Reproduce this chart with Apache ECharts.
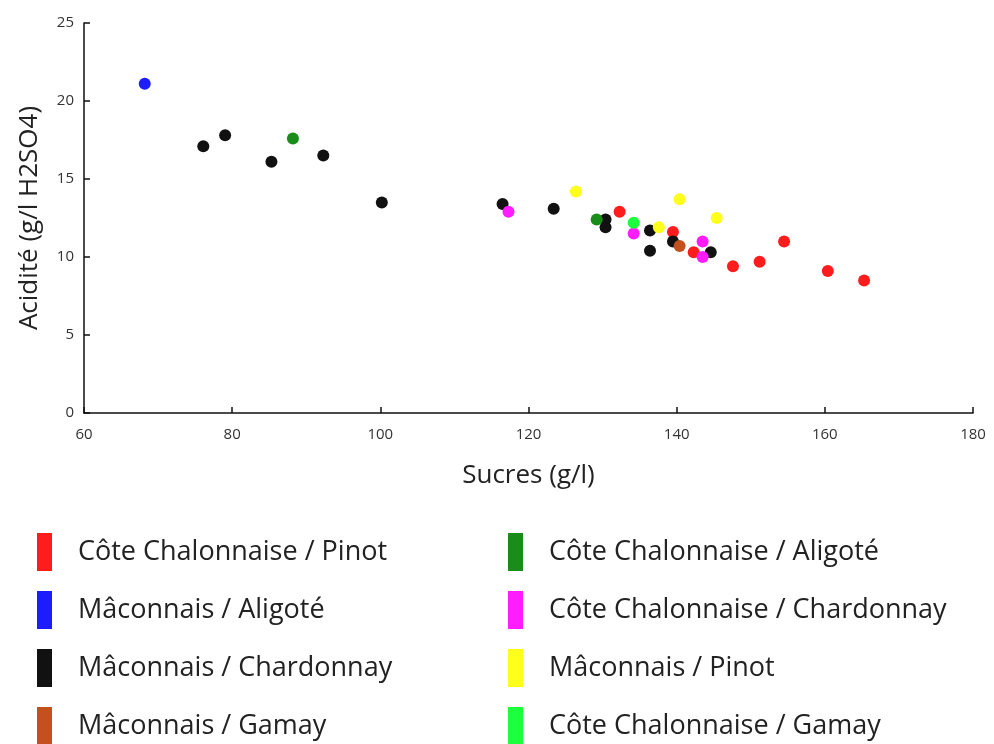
<!DOCTYPE html>
<html>
<head>
<meta charset="utf-8">
<script src="https://cdn.jsdelivr.net/npm/echarts@6/dist/echarts.min.js"></script>
<style>
html,body{margin:0;padding:0;background:#fff;}
#c{width:994px;height:744px;}
</style>
</head>
<body>
<div id="c"></div>
<script>
var xTicks = [60, 80, 100, 120, 140, 160, 180];
var yTicks = [0, 5, 10, 15, 20, 25];

var seriesNames = [
  'Côte Chalonnaise / Pinot',
  'Mâconnais / Aligoté',
  'Mâconnais / Chardonnay',
  'Mâconnais / Gamay',
  'Côte Chalonnaise / Aligoté',
  'Côte Chalonnaise / Chardonnay',
  'Mâconnais / Pinot',
  'Côte Chalonnaise / Gamay'
];
var seriesColors = ['#ff1c1c', '#1c1cff', '#111111', '#c4501e', '#1a8c1a', '#ff1cff', '#ffff1c', '#1cff3c'];

var ccPinot = [[132.3, 12.9], [139.5, 11.6], [142.3, 10.3], [147.6, 9.4], [151.2, 9.7], [154.5, 11.0], [160.4, 9.1], [165.3, 8.5]];
var mAligote = [[68.2, 21.1]];
var mChardonnay = [[76.1, 17.1], [79.05, 17.8], [85.3, 16.1], [92.3, 16.5], [100.2, 13.5], [116.5, 13.4], [123.4, 13.1], [130.4, 12.4], [130.4, 11.9], [136.4, 11.7], [136.4, 10.4], [139.5, 11.0], [144.6, 10.3]];
var mGamay = [[140.4, 10.7]];
var ccAligote = [[88.2, 17.6], [129.2, 12.4]];
var ccChardonnay = [[117.3, 12.9], [134.2, 11.5], [143.5, 11.0], [143.5, 10.0]];
var mPinot = [[126.4, 14.2], [140.4, 13.7], [145.4, 12.5], [137.6, 11.9]];
var ccGamay = [[134.2, 12.2]];

var seriesData = [ccPinot, mAligote, mChardonnay, mGamay, ccAligote, ccChardonnay, mPinot, ccGamay];

var chart = echarts.init(document.getElementById('c'));
var font = '"Open Sans", sans-serif';

var series = seriesNames.map(function (n, i) {
  return {
    name: n,
    type: 'scatter',
    data: seriesData[i],
    symbolSize: 12,
    itemStyle: { color: seriesColors[i], opacity: 1 },
    emphasis: { disabled: true }
  };
});

function legendCfg(names, left) {
  return {
    orient: 'vertical',
    left: left,
    top: 533,
    height: 240,
    padding: 0,
    icon: 'rect',
    itemWidth: 15,
    itemHeight: 38,
    itemGap: 20,
    data: names,
    selectedMode: false,
    textStyle: { fontFamily: font, fontSize: 27, color: '#222', padding: [0, 0, 0, 21] }
  };
}

chart.setOption({
  animation: false,
  textStyle: { fontFamily: font },
  grid: { left: 84, right: 21, top: 23, bottom: 331, containLabel: false },
  xAxis: {
    type: 'value',
    min: 60, max: 180, interval: 20,
    name: 'Sucres (g/l)',
    nameLocation: 'middle',
    nameGap: 50,
    nameTextStyle: { fontFamily: font, fontSize: 26, color: '#222' },
    axisLine: { show: true, onZero: false, lineStyle: { color: '#111', width: 1.5 } },
    axisTick: { show: true, inside: true, length: 6, lineStyle: { color: '#111', width: 1.5 } },
    axisLabel: { fontFamily: font, fontSize: 15, color: '#333', margin: 14,
      formatter: function (v) { return xTicks.indexOf(v) >= 0 ? String(v) : ''; } },
    splitLine: { show: false }
  },
  yAxis: {
    type: 'value',
    min: 0, max: 25, interval: 5,
    name: 'Acidité (g/l H2SO4)',
    nameLocation: 'middle',
    nameGap: 41,
    nameTextStyle: { fontFamily: font, fontSize: 26, color: '#222' },
    axisLine: { show: true, onZero: false, lineStyle: { color: '#111', width: 1.5 } },
    axisTick: { show: true, inside: true, length: 6, lineStyle: { color: '#111', width: 1.5 } },
    axisLabel: { fontFamily: font, fontSize: 15, color: '#333', margin: 10,
      formatter: function (v) { return yTicks.indexOf(v) >= 0 ? String(v) : ''; } },
    splitLine: { show: false }
  },
  legend: [
    legendCfg(seriesNames.slice(0, 4), 37),
    legendCfg(seriesNames.slice(4, 8), 508)
  ],
  series: series
});
</script>
</body>
</html>
